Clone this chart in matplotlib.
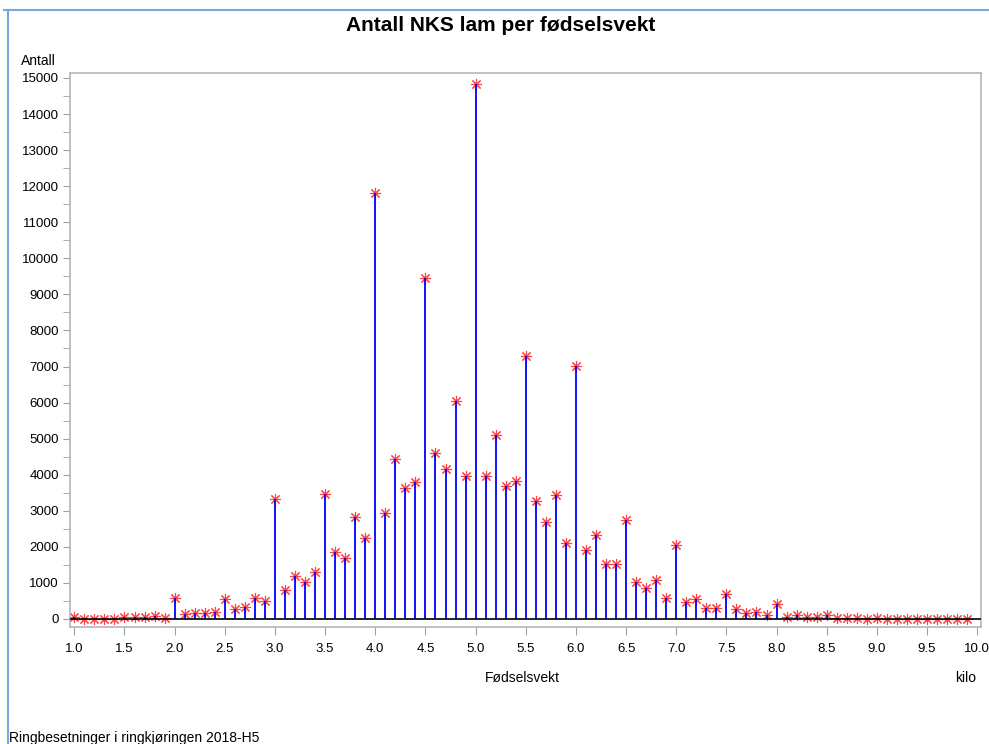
import numpy as np
import matplotlib
matplotlib.use("Agg")
import matplotlib.pyplot as plt
from matplotlib.lines import Line2D

plt.rcParams['font.family'] = ['Liberation Sans', 'DejaVu Sans']

# birth weight in kilo, 1.0 .. 9.9
vekt = [round(1.0 + 0.1 * i, 1) for i in range(90)]

# number of lambs per birth weight
antall = [
    45, 0, 0, 0, 0, 45, 45, 45, 75, 28,            # 1.0 - 1.9
    575, 130, 175, 175, 200, 555, 270, 340, 580, 510,  # 2.0 - 2.9
    3340, 790, 1190, 1025, 1290, 3475, 1855, 1700, 2835, 2255,  # 3.0 - 3.9
    11810, 2940, 4435, 3625, 3790, 9455, 4600, 4160, 6045, 3965,  # 4.0 - 4.9
    14835, 3965, 5100, 3680, 3825, 7290, 3270, 2690, 3440, 2105,  # 5.0 - 5.9
    7015, 1910, 2320, 1535, 1535, 2755, 1025, 850, 1090, 575,     # 6.0 - 6.9
    2045, 470, 555, 305, 305, 685, 268, 160, 200, 100,            # 7.0 - 7.9
    415, 45, 100, 55, 65, 120, 37, 37, 40, 0,                     # 8.0 - 8.9
    37, 5, 5, 5, 5, 5, 5, 5, 5, 5,                                # 9.0 - 9.9
]

xticks = np.arange(1.0, 10.01, 0.5)
yticks = np.arange(0, 15001, 1000)

fig = plt.figure(figsize=(9.89, 7.44), dpi=100)
ax = fig.add_axes([0.0708, 0.1577, 0.9208, 0.7446])

# asterisk markers under the needles, like the SAS output
ax.plot(vekt, antall, linestyle='none', marker=(8, 2, 0), markersize=8,
        markeredgewidth=0.8, color='#ff2020', alpha=0.85, zorder=2)
ax.vlines(vekt, 0, antall, colors='#0000ff', linewidth=1.3, zorder=3)
ax.axhline(0, color='black', linewidth=1.2, zorder=4)

ax.set_xlim(0.957, 10.035)
ax.set_ylim(-213, 15147)
ax.set_xticks(xticks)
ax.set_xticklabels([f"{t:.1f}" for t in xticks])
ax.set_yticks(yticks)
ax.set_yticklabels([str(t) for t in yticks])
ax.set_yticks(np.arange(500, 15000, 1000), minor=True)

for s in ax.spines.values():
    s.set_color('#b0b7bb')
    s.set_linewidth(1.2)
ax.tick_params(axis='both', which='both', color='#9aa2a6', labelsize=9.5,
               labelcolor='black', direction='out')
ax.tick_params(axis='x', length=6, pad=6)
ax.tick_params(axis='y', length=5, pad=3)
ax.tick_params(axis='y', which='minor', length=5)

fig.text(0.506, 0.966, "Antall NKS lam per fødselsvekt", ha='center', va='center',
         fontsize=15, fontweight='bold')
fig.text(0.021, 0.918, "Antall", ha='left', va='center', fontsize=10)
fig.text(0.528, 0.089, "Fødselsvekt", ha='center', va='center', fontsize=10)
fig.text(0.976, 0.089, "kilo", ha='center', va='center', fontsize=10)
fig.text(0.009, 0.008, "Ringbesetninger i ringkjøringen 2018-H5", ha='left',
         va='center', fontsize=10)

# light blue frame on top and left edge
fig.add_artist(Line2D([0.004, 1.0], [0.987, 0.987], transform=fig.transFigure,
                      color='#7aa7dc', linewidth=1.5))
fig.add_artist(Line2D([0.008, 0.008], [0.0, 0.987], transform=fig.transFigure,
                      color='#7aa7dc', linewidth=1.5))

fig.savefig("out.png", dpi=100)
